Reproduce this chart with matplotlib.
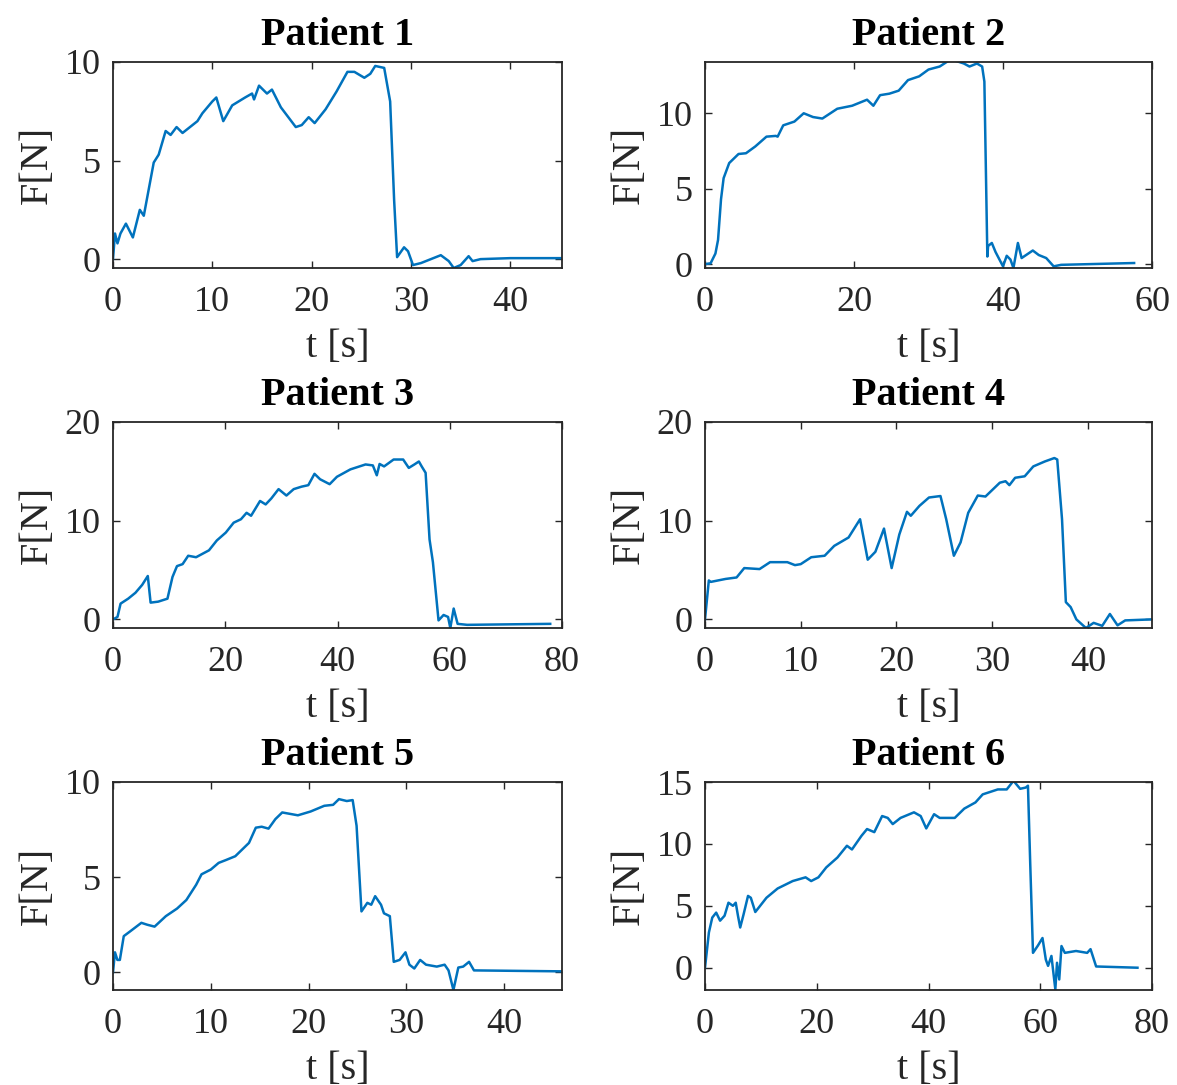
import numpy as np
import matplotlib.pyplot as plt

# force traces (t in s, F in N)
t1 = [0, 0.2, 0.45, 0.75, 1.3, 2.0, 2.7, 3.1, 4.1, 4.6, 5.3, 5.8, 6.4, 7.0, 8.5, 9.0, 10.0, 10.4,
      11.1, 12.0, 13.3, 14.0, 14.2, 14.7, 15.5, 16.0, 16.9, 18.4, 19.0, 19.7, 20.3, 21.4, 22.5,
      23.6, 24.3, 25.3, 25.9, 26.4, 27.3, 27.9, 28.3, 28.6, 29.3, 29.7, 30.2, 31.0, 32.0, 33.0,
      33.8, 34.3, 35.0, 35.8, 36.2, 37.0, 40.0, 45.2]
f1 = [0, 1.3, 0.8, 1.3, 1.8, 1.1, 2.5, 2.2, 4.9, 5.3, 6.5, 6.3, 6.7, 6.4, 7.0, 7.4, 8.0, 8.2,
      7.0, 7.8, 8.2, 8.4, 8.1, 8.8, 8.4, 8.6, 7.7, 6.7, 6.8, 7.2, 6.9, 7.6, 8.5,
      9.5, 9.5, 9.2, 9.4, 9.8, 9.7, 8.0, 3.0, 0.1, 0.6, 0.4, -0.3, -0.2, 0.0, 0.2,
      -0.1, -0.45, -0.3, 0.15, -0.1, 0.0, 0.05, 0.05]

t2 = [0, 0.75, 1.4, 1.75, 2.15, 2.5, 3.25, 4.5, 5.5, 6.75, 8.25, 9.5, 9.75, 10.5, 12.0, 13.25,
      14.5, 15.75, 17.75, 19.75, 21.75, 22.6, 23.5, 24.75, 26.0, 27.25, 28.75, 30.0, 31.5, 32.75,
      33.5, 34.75, 35.5, 36.5, 37.2, 37.5, 37.9, 38.0, 38.5, 39.0, 40.0, 40.5, 41.0, 41.4, 42.0,
      42.5, 44.0, 44.8, 45.8, 46.8, 47.8, 57.6]
f2 = [0, 0.05, 0.7, 1.6, 4.3, 5.7, 6.7, 7.3, 7.35, 7.8, 8.45, 8.5, 8.45, 9.2, 9.45, 10.0,
      9.75, 9.65, 10.3, 10.5, 10.9, 10.5, 11.2, 11.3, 11.5, 12.2, 12.45, 12.9, 13.1, 13.5,
      13.5, 13.3, 13.1, 13.3, 13.1, 12.1, 0.5, 1.2, 1.4, 0.8, -0.15, 0.55, 0.3, -0.26, 1.4,
      0.4, 0.9, 0.6, 0.4, -0.15, -0.05, 0.07]

t3 = [0, 0.8, 1.35, 2.7, 4.0, 5.2, 6.2, 6.7, 8.05, 9.7, 10.6, 11.4, 12.4, 13.4, 14.8, 17.1,
      18.5, 20.1, 21.5, 22.8, 23.8, 24.6, 26.2, 27.2, 28.2, 29.5, 30.9, 32.2, 33.6, 34.8, 35.9,
      36.9, 38.6, 39.9, 42.3, 45.0, 46.3, 47.0, 47.5, 48.3, 50.0, 51.7, 52.7, 53.7, 54.5, 55.0,
      55.7, 56.4, 57.0, 58.0, 58.9, 59.7, 60.1, 60.7, 61.4, 63.1, 77.9]
f3 = [0, 0.25, 1.6, 2.1, 2.7, 3.5, 4.4, 1.7, 1.8, 2.1, 4.3, 5.4, 5.6, 6.45, 6.3, 7.0,
      8.0, 8.8, 9.8, 10.15, 10.8, 10.5, 12.0, 11.65, 12.25, 13.2, 12.55, 13.2, 13.45, 13.6, 14.75,
      14.2, 13.7, 14.45, 15.2, 15.7, 15.6, 14.6, 15.75, 15.5, 16.2, 16.2, 15.35, 15.7, 16.0, 15.5,
      14.85, 8.1, 5.8, -0.1, 0.45, 0.25, -0.87, 1.1, -0.45, -0.55, -0.45]

t4 = [0, 0.4, 0.6, 2.15, 3.3, 4.1, 5.7, 6.8, 8.6, 9.4, 10.0, 11.1, 12.5, 13.5, 15.0, 16.2,
      17.0, 17.8, 18.7, 19.5, 20.3, 21.1, 21.5, 22.4, 23.4, 24.6, 25.2, 26.0, 26.7, 27.5, 28.5,
      29.3, 30.8, 31.4, 31.8, 32.4, 33.4, 34.3, 35.5, 36.5, 36.8, 37.3, 37.7, 38.2, 38.8, 39.8,
      40.6, 41.5, 42.3, 43.1, 43.9, 46.6]
f4 = [0, 3.95, 3.8, 4.1, 4.25, 5.2, 5.1, 5.8, 5.8, 5.5, 5.6, 6.3, 6.45, 7.45, 8.3, 10.15,
      6.05, 6.85, 9.2, 5.2, 8.6, 10.9, 10.5, 11.5, 12.35, 12.5, 10.15, 6.45, 7.8, 10.8, 12.55,
      12.45, 13.85, 14.0, 13.6, 14.35, 14.5, 15.5, 16.0, 16.35, 16.2, 10.15, 1.75, 1.25, 0.0, -0.87,
      -0.35, -0.65, 0.55, -0.6, -0.1, 0.0]

t5 = [0, 0.2, 0.45, 0.7, 1.1, 1.75, 2.9, 3.5, 4.25, 5.4, 6.55, 7.5, 8.5, 9.05, 10.0, 10.8,
      11.55, 12.5, 13.9, 14.6, 15.2, 15.9, 16.6, 17.3, 18.9, 20.2, 21.6, 22.5, 23.1, 23.9, 24.5,
      24.9, 25.4, 26.0, 26.4, 26.8, 27.4, 27.7, 28.3, 28.7, 29.3, 29.9, 30.3, 30.8, 31.4, 32.0,
      33.1, 33.9, 34.3, 34.8, 35.3, 35.8, 36.4, 36.9, 45.9]
f5 = [0, 1.05, 0.65, 0.65, 1.9, 2.15, 2.6, 2.5, 2.4, 2.95, 3.35, 3.8, 4.6, 5.15, 5.4, 5.75,
      5.9, 6.1, 6.8, 7.6, 7.65, 7.55, 8.05, 8.4, 8.25, 8.45, 8.75, 8.8, 9.1, 9.0, 9.05,
      7.7, 3.2, 3.65, 3.55, 4.0, 3.55, 3.1, 2.95, 0.55, 0.65, 1.05, 0.4, 0.2, 0.65, 0.4,
      0.3, 0.4, 0.1, -0.93, 0.25, 0.3, 0.55, 0.1, 0.05]

t6 = [0, 0.7, 1.3, 2.0, 2.7, 3.5, 4.2, 5.0, 5.5, 5.9, 6.3, 6.9, 7.7, 8.2, 9.0, 11.0, 13.0,
      15.7, 18.0, 19.0, 20.3, 21.7, 23.7, 25.4, 26.3, 28.0, 29.0, 30.3, 31.7, 32.7, 33.6, 35.0,
      37.4, 38.6, 39.6, 41.0, 42.0, 44.7, 46.4, 48.4, 49.7, 52.4, 54.0, 54.7, 55.2, 56.4, 57.4,
      57.8, 58.2, 58.7, 59.6, 60.4, 61.0, 61.4, 62.0, 62.7, 63.0, 63.4, 63.8, 64.4, 66.4, 68.4,
      69.0, 70.0, 77.4]
f6 = [0, 2.85, 4.05, 4.45, 3.8, 4.2, 5.25, 5.0, 5.25, 4.2, 3.25, 4.3, 5.8, 5.65, 4.5, 5.65, 6.4,
      7.0, 7.3, 7.0, 7.3, 8.1, 8.9, 9.85, 9.55, 10.65, 11.2, 10.95, 12.25, 12.1, 11.6, 12.1,
      12.55, 12.25, 11.25, 12.4, 12.1, 12.1, 12.85, 13.35, 14.0, 14.4, 14.4, 14.8, 15.1, 14.45, 14.55,
      14.7, 8.5, 1.2, 1.8, 2.4, 0.65, 0.15, 0.95, -1.75, 0.4, -0.95, 1.75, 1.2, 1.35, 1.2,
      1.5, 0.1, 0.0]

titles = ['Patient 1', 'Patient 2', 'Patient 3', 'Patient 4', 'Patient 5', 'Patient 6']
times = [t1, t2, t3, t4, t5, t6]
forces = [f1, f2, f3, f4, f5, f6]
xlims = [(0, 45.2), (0, 60), (0, 80), (0, 46.7), (0, 45.9), (0, 80)]
ylims = [(-0.45, 10), (-0.26, 13.4), (-0.87, 20), (-0.87, 20), (-0.93, 10), (-1.8, 15)]
xticks = [[0, 10, 20, 30, 40], [0, 20, 40, 60], [0, 20, 40, 60, 80],
          [0, 10, 20, 30, 40], [0, 10, 20, 30, 40], [0, 20, 40, 60, 80]]
yticks = [[0, 5, 10], [0, 5, 10], [0, 10, 20], [0, 10, 20], [0, 5, 10], [0, 5, 10, 15]]

plt.rcParams['font.family'] = ['Liberation Serif', 'DejaVu Serif']

W, H = 1177, 1085
fig = plt.figure(figsize=(W / 100, H / 100), dpi=100)

# axes boxes in pixels: left, top, right, bottom
lefts = [113, 705]
rights = [562, 1152]
tops = [62, 422, 782]
bottoms = [268, 628, 990]

gray = '#262626'
for i in range(6):
    r, c = i // 2, i % 2
    ax = fig.add_axes([lefts[c] / W, 1 - bottoms[r] / H,
                       (rights[c] - lefts[c]) / W, (bottoms[r] - tops[r]) / H])
    ax.plot(times[i], forces[i], color='#0072BD', lw=1.8)
    ax.set_xlim(xlims[i])
    ax.set_ylim(ylims[i])
    ax.set_xticks(xticks[i])
    ax.set_yticks(yticks[i])
    ax.tick_params(direction='in', top=True, right=True, length=5, width=1,
                   labelsize=26, colors=gray, pad=9)
    ax.tick_params(axis='x', pad=13)
    for s in ax.spines.values():
        s.set_color(gray)
        s.set_linewidth(1.3)
    ax.set_title(titles[i], fontsize=29, fontweight='bold', pad=12)
    ax.set_xlabel('t [s]', fontsize=29, color=gray, labelpad=7)
    ax.set_ylabel('F[N]', fontsize=29, color=gray, labelpad=6)

fig.savefig('out.png', dpi=100)
